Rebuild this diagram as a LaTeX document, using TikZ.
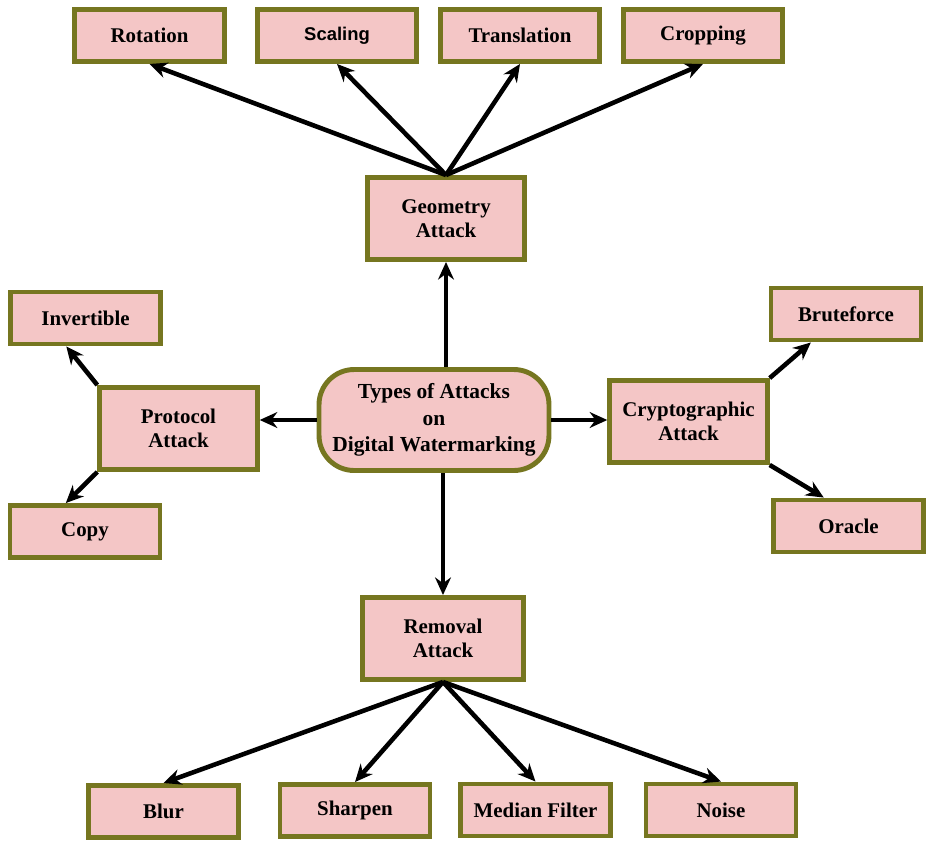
\documentclass[tikz,border=0pt]{standalone}
\usepackage{fontspec}
\setmainfont{Liberation Serif}
\newfontfamily\sansbold{Liberation Sans}
\usepackage{tikz}
\usetikzlibrary{arrows.meta,positioning}
\definecolor{boxfill}{RGB}{244,198,198}
\definecolor{boxline}{RGB}{118,118,32}

\begin{document}
\begin{tikzpicture}[x=0.02cm,y=-0.02cm,
  box/.style={draw=boxline,fill=boxfill,line width=2.8pt,align=center,inner sep=0pt,
    font=\fontsize{11.9}{14}\selectfont\bfseries},
  leaf/.style={box,minimum width=3.0cm,minimum height=1.04cm},
  attack/.style={box,minimum width=3.15cm,minimum height=1.64cm},
  arr/.style={-{Stealth[length=10pt,width=9pt]},line width=2.6pt}]
\useasboundingbox (0,0) rectangle (926,842);
\node[attack,rounded corners=20pt,minimum width=4.6cm,minimum height=2.02cm,
  font=\fontsize{12.2}{15.2}\selectfont\bfseries] (types) at (434,420) {Types of Attacks\\on\\Digital Watermarking};
\node[attack] (geo) at (446,218.5) {Geometry\\Attack};
\node[attack] (prot) at (178.5,428.5) {Protocol\\Attack};
\node[attack] (crypto) at (688.5,421.5) {Cryptographic\\Attack};
\node[attack,minimum width=3.22cm] (rem) at (443,638.5) {Removal\\Attack};
\node[leaf] (rot) at (149.5,35.5) {Rotation};
\node[leaf,minimum width=3.18cm,font=\sansbold\fontsize{10.5}{13}\selectfont\bfseries] (scal) at (337,35.5) {Scaling};
\node[leaf,minimum width=3.18cm] (trans) at (520,35.5) {Translation};
\node[leaf,minimum width=3.18cm] (crop) at (703,35.5) {Cropping};
\node[leaf] (inv) at (85.5,318) {Invertible};
\node[leaf] (copy) at (85,531.5) {Copy};
\node[leaf] (brute) at (846,314) {Bruteforce};
\node[leaf] (oracle) at (848.5,526) {Oracle};
\node[leaf] (blur) at (163.5,811.5) {Blur};
\node[leaf] (sharp) at (355,810.5) {Sharpen};
\node[leaf] (median) at (535.5,810) {Median Filter};
\node[leaf] (noise) at (721,810) {Noise};
\draw[arr] (types.north -| geo) -- (geo.south);
\draw[arr] (types.south -| rem) -- (rem.north);
\draw[arr] (types.east) -- (types.east -| crypto.west);
\draw[arr] (types.west) -- (types.west -| prot.east);
\foreach \t in {rot,scal,trans,crop}
  \draw[arr] (geo.north) -- (\t.south);
\foreach \t in {blur,sharp,median,noise}
  \draw[arr] (rem.south) -- (\t.north);
\draw[arr] (crypto.north east) -- (brute.219);
\draw[arr] (crypto.south east) -- (oracle.131);
\draw[arr] (prot.north west) -- (inv.236);
\draw[arr] (prot.south west) -- (copy.124);
\end{tikzpicture}
\end{document}
